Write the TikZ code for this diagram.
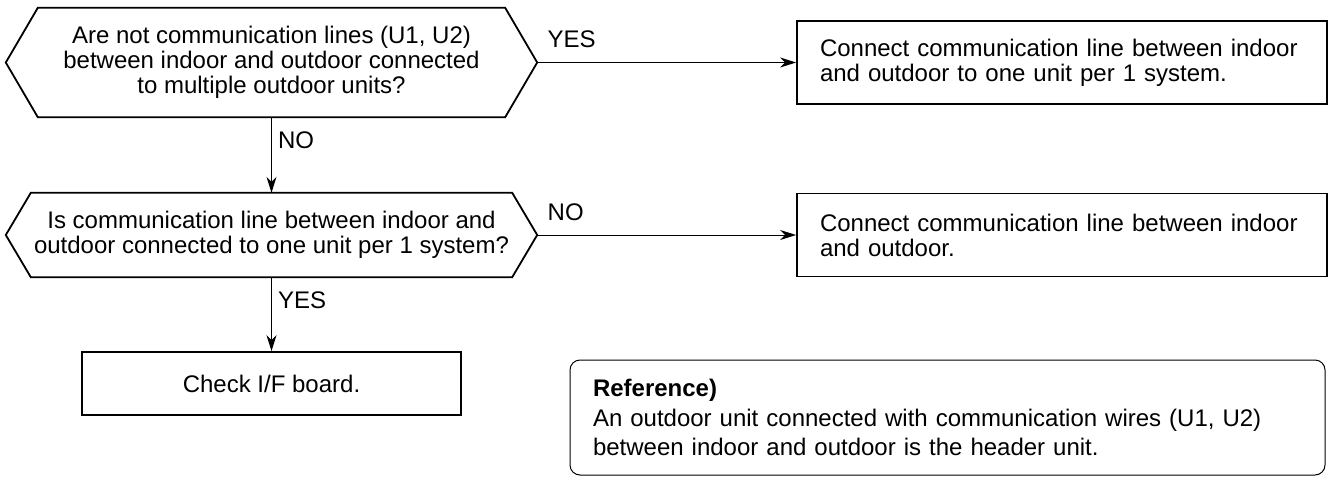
\documentclass[tikz,border=0pt]{standalone}
\usepackage{fontspec}
\setmainfont{Liberation Sans}
\usetikzlibrary{arrows.meta, positioning, calc}
\tikzset{
	hexbody/.style={rectangle, draw=none, align=center, inner sep=0pt},
	hexline/.style={draw=black, line width=1.8pt, line join=miter},
	actbox/.style={rectangle, draw=black, line width=1.8pt, align=left, text width=484pt, inner xsep=23pt, inner ysep=0pt, minimum height=83pt},
	chkbox/.style={rectangle, draw=black, line width=1.8pt, align=center, minimum width=379pt, minimum height=63pt},
	refbox/.style={rectangle, rounded corners=10pt, draw=black, line width=1pt, align=left, text width=709pt, inner xsep=23pt, minimum height=115pt, font=\fontsize{24}{29.5}\selectfont},
	flow/.style={-{Stealth[length=16pt, width=10pt, inset=5pt]}, line width=1pt},
	flowlbl/.style={inner sep=0pt, anchor=base west},
}
\begin{document}
\begin{tikzpicture}[x=1pt, y=-1pt, font=\fontsize{24}{25}\selectfont]
	\useasboundingbox (0,0) rectangle (1328,477);
	% decisions
	\node[hexbody, minimum width=467pt, minimum height=109pt] (q1) at (271.5,62.5)
		{Are not communication lines (U1, U2)\\between indoor and outdoor connected\\to multiple outdoor units?};
	\node[hexbody, minimum width=481pt, minimum height=84pt] (q2) at (271.5,235)
		{Is communication line between indoor and\\outdoor connected to one unit per 1 system?};
	\foreach \q/\ind in {q1/32, q2/25} {
		\draw[hexline] (\q.north west) -- (\q.north east) -- ([xshift=\ind pt]\q.east) coordinate (\q e)
			-- (\q.south east) -- (\q.south west) -- ([xshift=-\ind pt]\q.west) -- cycle;
	}
	% actions
	\node[actbox] (a1) at (1062,62.5) {Connect communication line between indoor\\and outdoor to one unit per 1 system.};
	\node[actbox] (a2) at (1062,235) {Connect communication line between indoor\\and outdoor.};
	\node[chkbox] (chk) at (271.5,383.5) {Check I/F board.};
	\node[refbox] (ref) at (947.5,417.5)
		{\textbf{Reference)}\\An outdoor unit connected with communication wires (U1, U2)\\between indoor and outdoor is the header unit.};
	% connectors
	\foreach \src/\dst/\lbl in {q1e/a1/YES, q2e/a2/NO}
		\draw[flow] (\src) -- node[flowlbl, at start, xshift=10pt, yshift=15pt] {\lbl} (\dst.west);
	\foreach \src/\dst/\lbl in {q1/q2/NO, q2/chk/YES}
		\draw[flow] (\src.south) -- node[flowlbl, at start, xshift=6pt, yshift=-31pt] {\lbl} (\dst.north);
\end{tikzpicture}
\end{document}
